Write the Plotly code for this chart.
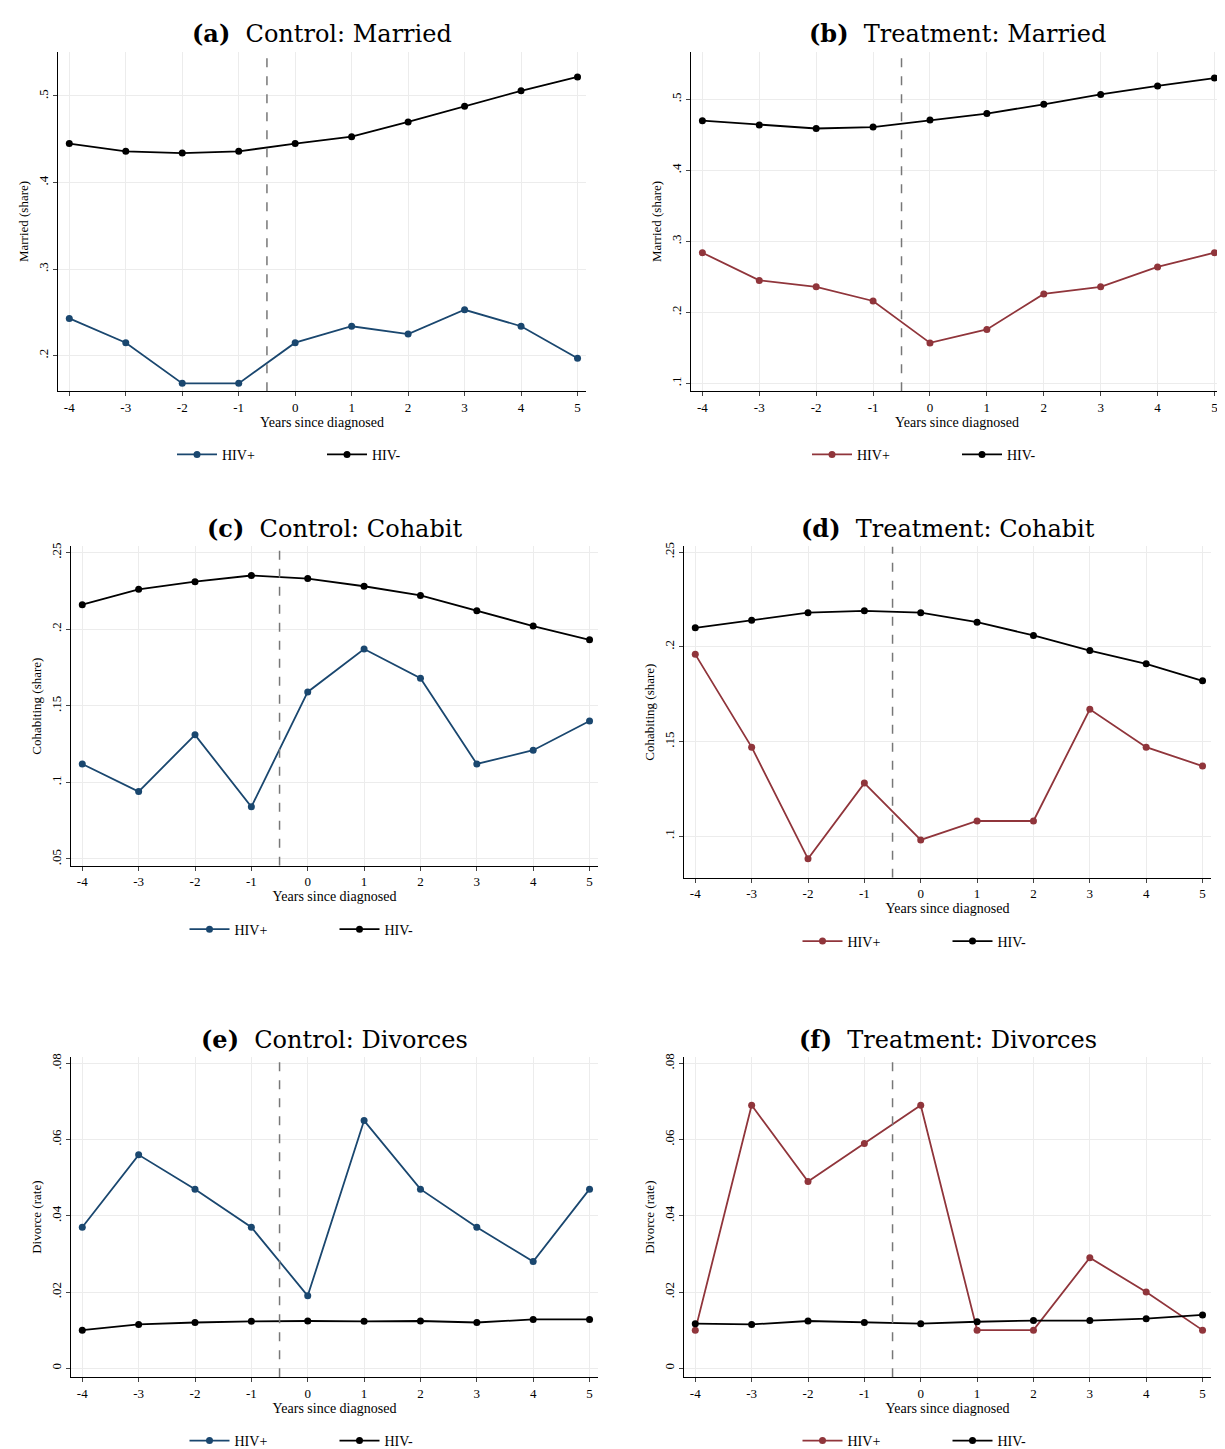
import plotly.graph_objects as go

years = [-4, -3, -2, -1, 0, 1, 2, 3, 4, 5]
year_labels = ["-4", "-3", "-2", "-1", "0", "1", "2", "3", "4", "5"]

ctrl_married_pos = [.243, .215, .168, .168, .215, .234, .225, .253, .234, .197]
ctrl_married_neg = [.445, .436, .434, .436, .445, .453, .470, .488, .506, .522]
trt_married_pos = [.284, .245, .236, .216, .157, .176, .226, .236, .264, .284]
trt_married_neg = [.470, .464, .459, .461, .471, .480, .493, .507, .519, .530]
ctrl_cohab_pos = [.112, .094, .131, .084, .159, .187, .168, .112, .121, .140]
ctrl_cohab_neg = [.216, .226, .231, .235, .233, .228, .222, .212, .202, .193]
trt_cohab_pos = [.196, .147, .088, .128, .098, .108, .108, .167, .147, .137]
trt_cohab_neg = [.210, .214, .218, .219, .218, .213, .206, .198, .191, .182]
ctrl_div_pos = [.037, .056, .047, .037, .019, .065, .047, .037, .028, .047]
ctrl_div_neg = [.010, .0115, .012, .0123, .0124, .0123, .0124, .012, .0128, .0128]
trt_div_pos = [.010, .069, .049, .059, .069, .010, .010, .029, .020, .010]
trt_div_neg = [.0117, .0115, .0124, .012, .0117, .0122, .0125, .0125, .013, .014]

BLUE = "#1a476f"
RED = "#90353b"
W, H = 1225, 1449
FONT = "Liberation Serif"

panels = [
    ("(a)", "Control: Married", "Married (share)", ctrl_married_pos, ctrl_married_neg, BLUE,
     (50, 578, 40, 381), [0.159, 0.551], [.2, .3, .4, .5], [".2", ".3", ".4", ".5"]),
    ("(b)", "Treatment: Married", "Married (share)", trt_married_pos, trt_married_neg, RED,
     (683, 1215, 40, 381), [0.089, 0.567], [.1, .2, .3, .4, .5], [".1", ".2", ".3", ".4", ".5"]),
    ("(c)", "Control: Cohabit", "Cohabiting (share)", ctrl_cohab_pos, ctrl_cohab_neg, BLUE,
     (63, 590, 537, 858), [0.0455, 0.254], [.05, .1, .15, .2, .25], [".05", ".1", ".15", ".2", ".25"]),
    ("(d)", "Treatment: Cohabit", "Cohabiting (share)", trt_cohab_pos, trt_cohab_neg, RED,
     (676, 1203, 537, 870), [0.078, 0.253], [.1, .15, .2, .25], [".1", ".15", ".2", ".25"]),
    ("(e)", "Control: Divorces", "Divorce (rate)", ctrl_div_pos, ctrl_div_neg, BLUE,
     (63, 590, 1050, 1372), [-0.0024, 0.0817], [0, .02, .04, .06, .08], ["0", ".02", ".04", ".06", ".08"]),
    ("(f)", "Treatment: Divorces", "Divorce (rate)", trt_div_pos, trt_div_neg, RED,
     (676, 1203, 1050, 1372), [-0.0024, 0.0817], [0, .02, .04, .06, .08], ["0", ".02", ".04", ".06", ".08"]),
]

fig = go.Figure()
layout = {}
for i, (lab, title, ylab, pos, neg, col, box, yr, yt, ytt) in enumerate(panels):
    n = "" if i == 0 else str(i + 1)
    l, r, t, b = box
    xd = [l / W, r / W]
    yd = [1 - b / H, 1 - t / H]
    leg = "legend" + n
    for name, ys, c in [("HIV+", pos, col), ("HIV-", neg, "black")]:
        fig.add_trace(go.Scatter(
            x=years, y=ys, name=name, mode="lines+markers",
            line=dict(color=c, width=1.8), marker=dict(color=c, size=7),
            xaxis="x" + n, yaxis="y" + n, legend=leg))
    layout["xaxis" + n] = dict(
        domain=xd, anchor="y" + n, range=[-4.2, 5.15], tickvals=years, ticktext=year_labels,
        showline=True, linecolor="black", ticks="outside", ticklen=4,
        gridcolor="#ececec", zeroline=False, tickfont=dict(size=13),
        title=dict(text="Years since diagnosed", font=dict(size=14), standoff=0))
    layout["yaxis" + n] = dict(
        domain=yd, anchor="x" + n, range=yr, tickvals=yt, ticktext=ytt,
        tickangle=-90, showline=True, linecolor="black", ticks="outside", ticklen=4,
        gridcolor="#ececec", zeroline=False, tickfont=dict(size=13),
        title=dict(text=ylab, font=dict(size=13), standoff=4))
    layout[leg] = dict(
        orientation="h", x=(xd[0] + xd[1]) / 2, xanchor="center",
        y=1 - (b + 64) / H, yanchor="middle", font=dict(size=14),
        itemwidth=40, entrywidth=95, bgcolor="rgba(0,0,0,0)")
    fig.add_shape(type="line", x0=-0.5, x1=-0.5, y0=yr[0], y1=yr[1],
                  xref="x" + n, yref="y" + n,
                  line=dict(color="#777777", width=1.5, dash="dash"))
    fig.add_annotation(text="<b>" + lab + "</b>  " + title, showarrow=False,
                       xref="paper", yref="paper", x=(xd[0] + xd[1]) / 2,
                       xanchor="center", y=1 - (t - 18) / H, yanchor="middle",
                       font=dict(size=24, family="DejaVu Serif", color="black"))

fig.update_layout(width=W, height=H, margin=dict(l=0, r=0, t=0, b=0),
                  plot_bgcolor="white", paper_bgcolor="white",
                  font=dict(family=FONT, color="black"), **layout)
fig.write_html("out.html")
